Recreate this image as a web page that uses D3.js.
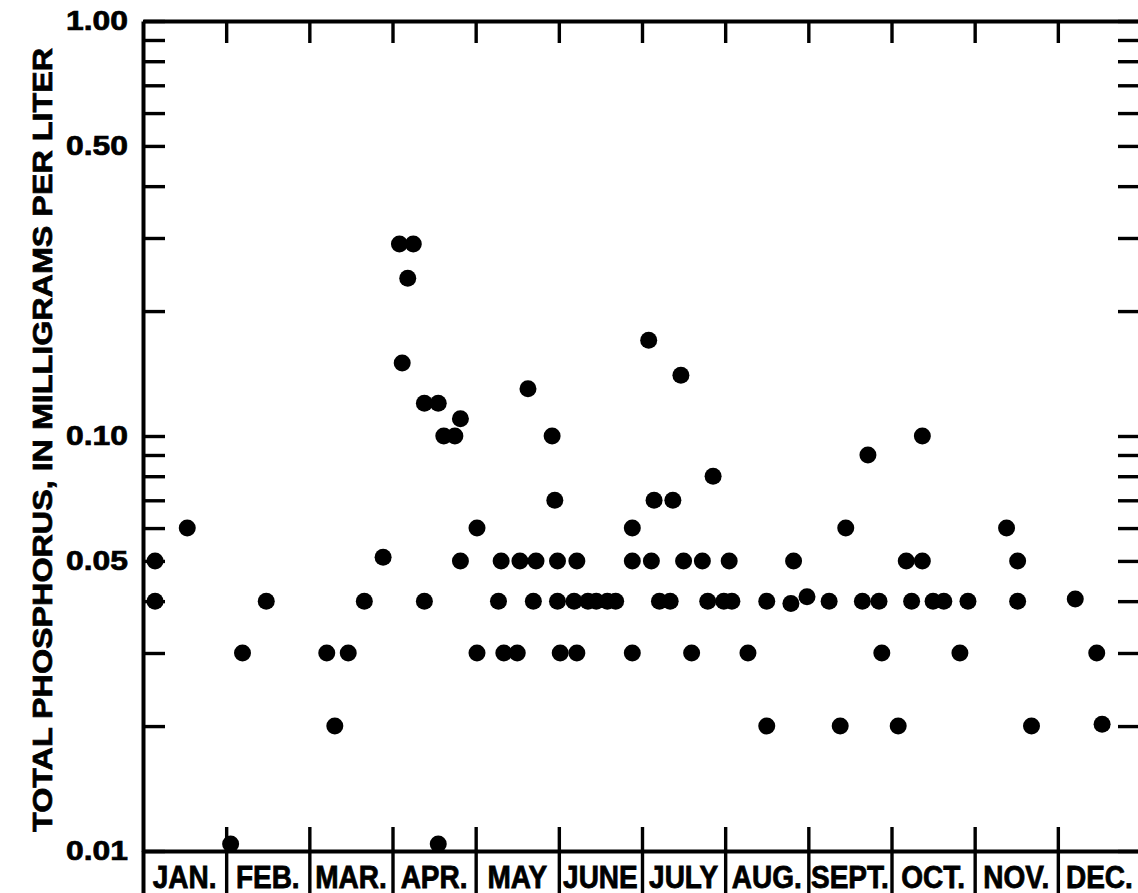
<!DOCTYPE html>
<html>
<head>
<meta charset="utf-8">
<script src="https://cdn.jsdelivr.net/npm/d3@7"></script>
<style>
  html, body { margin: 0; padding: 0; background: #fff; }
  svg { display: block; }
  text { font-family: "Liberation Sans", Arial, Helvetica, sans-serif; font-weight: bold; fill: #000; }
  .axis path, .axis line { stroke: #000; }
  .heavy { stroke: #000; stroke-width: 0.7px; }
</style>
</head>
<body>
<svg id="chart" width="1138" height="893"></svg>
<script>
// ── data ─────────────────────────────────────────
const MONTHS = ['JAN.', 'FEB.', 'MAR.', 'APR.', 'MAY', 'JUNE', 'JULY', 'AUG.', 'SEPT.', 'OCT.', 'NOV.', 'DEC.'];
const MONTH_DAYS = [31, 28, 31, 30, 31, 30, 31, 31, 30, 31, 30, 31];

// sampling dates (MM-DD) and total phosphorus (mg/L)
const SAMPLE_DATES = [
  '01-05', '01-05', '01-17', '02-02', '02-06', '02-14',
  '03-07', '03-10', '03-15', '03-21', '03-28',
  '04-03', '04-04', '04-06', '04-08', '04-12', '04-12', '04-17', '04-17', '04-19', '04-23', '04-25', '04-25',
  '05-01', '05-01', '05-09', '05-10', '05-11', '05-16', '05-17', '05-20', '05-22', '05-23', '05-29', '05-30', '05-31', '05-31',
  '06-01', '06-06', '06-07', '06-07', '06-11', '06-14', '06-18', '06-21', '06-27', '06-27', '06-27',
  '07-03', '07-04', '07-05', '07-07', '07-11', '07-12', '07-15', '07-16', '07-19', '07-23', '07-25', '07-27', '07-31',
  '08-02', '08-03', '08-09', '08-16', '08-16', '08-25', '08-26', '08-31',
  '09-08', '09-12', '09-14', '09-20', '09-22', '09-26', '09-27',
  '10-03', '10-06', '10-08', '10-12', '10-12', '10-16', '10-20', '10-26', '10-29',
  '11-12', '11-16', '11-16', '11-21',
  '12-07', '12-15', '12-17'
];
const PHOSPHORUS = [
  0.05, 0.04, 0.06, 0.0104, 0.03, 0.04,
  0.03, 0.02, 0.03, 0.04, 0.051,
  0.29, 0.15, 0.24, 0.29, 0.12, 0.04, 0.12, 0.0104, 0.10, 0.10, 0.11, 0.05,
  0.06, 0.03, 0.04, 0.05, 0.03, 0.03, 0.05, 0.13, 0.04, 0.05, 0.10, 0.07, 0.05, 0.04,
  0.03, 0.04, 0.05, 0.03, 0.04, 0.04, 0.04, 0.04, 0.06, 0.05, 0.03,
  0.17, 0.05, 0.07, 0.04, 0.04, 0.07, 0.14, 0.05, 0.03, 0.05, 0.04, 0.08, 0.04,
  0.05, 0.04, 0.03, 0.02, 0.04, 0.0395, 0.05, 0.041,
  0.04, 0.02, 0.06, 0.04, 0.09, 0.04, 0.03,
  0.02, 0.05, 0.04, 0.10, 0.05, 0.04, 0.04, 0.03, 0.04,
  0.06, 0.05, 0.04, 0.02,
  0.0405, 0.03, 0.0202
];

const Y_TICKS = [1, 0.9, 0.8, 0.7, 0.6, 0.5, 0.4, 0.3, 0.2, 0.1, 0.09, 0.08, 0.07, 0.06, 0.05, 0.04, 0.03, 0.02, 0.01];
const Y_LABELED = [1, 0.5, 0.1, 0.05, 0.01];

// ── layout ───────────────────────────────────────
const M = { left: 143, top: 21, right: 1141, bottom: 851 };
const LINE_W = 4, TICK_W = 3.4;
const svg = d3.select('#chart');

const x = d3.scaleLinear().domain([0, 12]).range([M.left, M.right]);
const y = d3.scaleLog().domain([0.01, 1]).range([M.bottom, M.top]);

// date -> fractional month position
function monthPos(s) {
  const [mm, dd] = s.split('-').map(Number);
  return (mm - 1) + (dd - 0.5) / MONTH_DAYS[mm - 1];
}

const points = SAMPLE_DATES.map((d, i) => ({ pos: monthPos(d), val: PHOSPHORUS[i] }));

function styleAxis(g) {
  g.select('.domain').attr('stroke-width', LINE_W);
  g.selectAll('.tick line').attr('stroke-width', TICK_W);
}

// ── axes ─────────────────────────────────────────
// left: ticks point inward, labels only on a few values
const yLeft = svg.append('g').attr('class', 'axis')
  .attr('transform', `translate(${M.left},0)`)
  .call(d3.axisLeft(y).tickValues(Y_TICKS).tickSize(-22).tickSizeOuter(0).tickPadding(15)
    .tickFormat(v => Y_LABELED.includes(v) ? d3.format('.2f')(v) : ''))
  .call(styleAxis);
yLeft.selectAll('.tick text')
  .attr('class', 'heavy')
  .style('font-size', '27px')
  .attr('textLength', function() { return this.textContent ? 62 : null; })
  .attr('lengthAdjust', 'spacingAndGlyphs');

// right: inward ticks only
svg.append('g').attr('class', 'axis')
  .attr('transform', `translate(${M.right},0)`)
  .call(d3.axisRight(y).tickValues(Y_TICKS).tickSize(-23).tickSizeOuter(0).tickFormat(''))
  .call(styleAxis);

// top: frame line + month boundary ticks
svg.append('g').attr('class', 'axis')
  .attr('transform', `translate(0,${M.top})`)
  .call(d3.axisTop(x).tickValues(d3.range(1, 12)).tickSize(-22).tickSizeOuter(0).tickFormat(''))
  .call(styleAxis);

// bottom: inward ticks
svg.append('g').attr('class', 'axis')
  .attr('transform', `translate(0,${M.bottom})`)
  .call(d3.axisBottom(x).tickValues(d3.range(1, 12)).tickSize(-24).tickSizeOuter(0).tickFormat(''))
  .call(styleAxis);

// month band separators below the plot
const band = svg.append('g').attr('class', 'axis')
  .attr('transform', `translate(0,${M.bottom})`)
  .call(d3.axisBottom(x).tickValues(d3.range(0, 13)).tickSize(50).tickSizeOuter(0).tickFormat(''))
  .call(styleAxis);
band.select('.domain').remove();
band.selectAll('.tick').filter(d => d === 0).select('line').attr('stroke-width', LINE_W);

// month names
svg.append('g').selectAll('text').data(MONTHS).join('text')
  .attr('class', 'heavy')
  .attr('transform', (d, i) => `translate(${x(i + 0.5)},888) scale(1,1.13)`)
  .attr('text-anchor', 'middle')
  .style('font-size', '28px')
  .text(d => d);

// y title
svg.append('text')
  .attr('class', 'heavy')
  .attr('transform', `translate(52,440) rotate(-90)`)
  .attr('text-anchor', 'middle')
  .attr('textLength', 784)
  .attr('lengthAdjust', 'spacingAndGlyphs')
  .style('font-size', '28px')
  .text('TOTAL PHOSPHORUS, IN MILLIGRAMS PER LITER');

// ── samples ──────────────────────────────────────
svg.append('g').selectAll('circle').data(points).join('circle')
  .attr('cx', d => x(d.pos))
  .attr('cy', d => y(d.val))
  .attr('r', 8.5)
  .attr('fill', '#000');
</script>
</body>
</html>
